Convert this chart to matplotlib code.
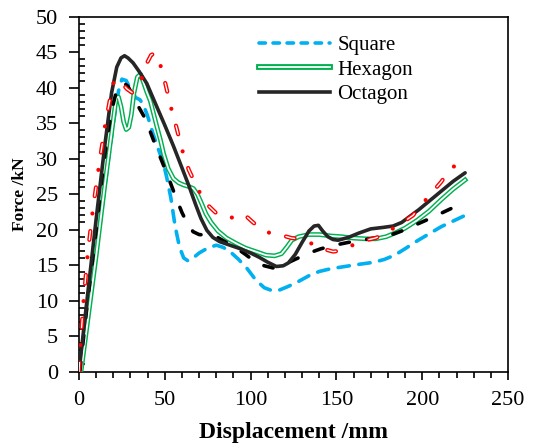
import matplotlib
matplotlib.use("Agg")
import matplotlib.pyplot as plt
import matplotlib.patheffects as pe
from matplotlib.lines import Line2D
from matplotlib.ticker import MultipleLocator

plt.rcParams['font.family'] = ['Liberation Serif', 'DejaVu Serif']
plt.rcParams['lines.scale_dashes'] = False

# -----------------------------
# DATA
# -----------------------------
sq_x = [1, 5, 10, 15, 20, 23, 25, 27.5, 30, 33, 35.5, 37.5, 40, 43, 46, 49, 51,
        53.5, 56, 58.5, 61, 63.5, 66, 70, 75, 80, 84, 88, 93, 98, 103, 108, 112.5,
        117, 122, 128, 134, 140, 147, 155, 163, 172, 178, 184, 190, 197, 204, 211,
        218, 225]
sq_y = [0, 7.5, 16.5, 26, 35, 39.5, 41.2, 41, 39.8, 38.6, 38.3, 37.6, 36, 33.6,
        31.5, 29.5, 27.5, 24.5, 20.5, 17.6, 16, 15.6, 15.9, 16.7, 17.4, 17.8, 17.5,
        16.9, 15.8, 14.5, 12.9, 11.8, 11.4, 11.5, 12, 12.7, 13.5, 14.1, 14.5, 14.8,
        15.1, 15.4, 15.8, 16.4, 17.3, 18.4, 19.4, 20.4, 21.2, 22.0]

hx_x = [1.2, 5, 10, 15, 18, 20, 21.7, 23, 24.5, 26, 27.5, 29, 30.5, 32, 34, 35.8,
        37.5, 39.5, 41.6, 43.5, 45.4, 47.5, 49.3, 52, 55, 58, 60.8, 63.5, 66.6, 69,
        71.4, 74, 77, 81, 86, 92, 97, 103, 109, 114, 118, 121, 124, 128, 134, 140,
        147, 153, 160, 167, 173, 179, 184, 190, 197, 204, 211, 218, 225]
hx_y = [0, 7, 16.3, 26.2, 31.8, 35.5, 38.6, 38.7, 37.3, 35.2, 34.1, 34.4, 36.2,
        39.2, 41.5, 41.9, 40.8, 39.4, 38.1, 36.3, 34.5, 32.6, 30.7, 28.6, 27.2,
        26.6, 26.3, 26.1, 25.8, 25, 23.7, 22.2, 21, 19.8, 18.8, 18, 17.4, 16.9,
        16.4, 16.3, 16.6, 17.5, 18.5, 19, 19.3, 19.3, 19.1, 19.0, 18.8, 18.7, 18.7,
        19, 19.5, 20.2, 21.3, 22.6, 24.2, 25.7, 27.0]

oc_x = [0, 5, 10, 15, 19, 22, 24.5, 26.5, 28.5, 31.5, 35, 39.5, 45, 50, 55, 60,
        64, 68, 71, 74.5, 78, 82, 88, 94, 100, 105, 110, 115, 119, 122, 126, 130,
        134, 137, 139.5, 142, 145, 148, 151, 157, 163, 170, 177, 183, 188, 193,
        198, 203, 208, 213, 218, 225]
oc_y = [0, 10.8, 21.5, 31.8, 39.3, 42.9, 44.2, 44.5, 44.2, 43.5, 42.3, 40.6, 37.5,
        34.7, 31.8, 28.7, 26.2, 23.5, 21.6, 19.9, 18.9, 18.3, 17.8, 17.3, 16.7,
        16.1, 15.4, 14.8, 14.9, 15.3, 16.5, 18.2, 19.8, 20.5, 20.6, 19.8, 19.0,
        18.6, 18.5, 18.9, 19.5, 20.1, 20.3, 20.5, 21, 21.9, 22.8, 23.8, 24.8, 25.8,
        26.8, 28.0]

bd_x = [0.5, 5, 10, 14, 16.5, 19, 21.5, 24, 26.5, 28.5, 30.5, 34, 38.7, 44.5,
        51.2, 57, 60, 63.5, 66.5, 70, 75, 80, 85, 90.6, 97, 103, 108, 113, 118,
        125, 134, 141, 149, 157, 164.6, 172, 180, 188, 195.5, 203, 211, 218, 225]
bd_y = [0, 10, 20, 28.6, 33.1, 36.8, 39.2, 40.4, 40.6, 40.2, 39.3, 37.6, 35.6,
        31.9, 27.9, 24.2, 22.4, 20.7, 19.7, 19.3, 19.2, 19.0, 18.3, 17.6, 16.5,
        15.4, 14.9, 14.6, 14.9, 15.7, 16.7, 17.3, 17.8, 18.2, 18.5, 18.8, 19.1,
        19.8, 20.6, 21.4, 22.3, 23.1, 24.0]

rd_x = [0, 0.8, 2.7, 5, 7.9, 11.4, 15.2, 18, 20.4, 22.5, 25, 28, 31, 33.5, 36.4,
        39, 42, 44.5, 47.3, 50.5, 53.5, 57, 60, 64, 69.5, 74, 80, 87.8, 93, 96,
        101, 105, 109, 113, 118, 124, 128, 133, 137, 141, 145, 148, 152, 157, 161,
        165, 169, 172.6, 176.5, 180.5, 184, 187.7, 191, 194.6, 200, 206, 211, 216,
        218.5]
rd_y = [0, 3.9, 10.1, 16.4, 22.5, 28.6, 34.7, 38.3, 41, 41.2, 40.6, 39.8, 39.3,
        39.9, 41.2, 43.2, 44.6, 44.9, 43.3, 40.4, 37.3, 34.2, 31.3, 28.4, 25.6,
        23.7, 22.3, 21.6, 22, 22.2, 21.1, 20.3, 19.7, 19.4, 19.2, 18.8, 18.7, 18.4,
        17.8, 17.3, 17.1, 16.9, 17.0, 17.5, 18.0, 18.3, 18.6, 18.8, 19.2, 19.8,
        20.3, 20.9, 21.4, 22.0, 23.6, 25.3, 26.7, 28.4, 28.9]

labels = ["Square", "Hexagon", "Octagon"]

BLUE = "#00B0F0"
GREEN = "#00B050"
DARK = "#262626"
RED = "#FF0000"

# -----------------------------
# PLOT
# -----------------------------
fig = plt.figure(figsize=(5.36, 4.47), dpi=100)
ax = fig.add_axes([0.1474, 0.1689, 0.8004, 0.7937])

ax.plot(sq_x, sq_y, color=BLUE, lw=2.6, ls=(0, (8.2, 6.9)),
        dash_capstyle="round", zorder=2)

green_fx = [pe.Stroke(linewidth=3.4, foreground=GREEN), pe.Normal()]
ax.plot(hx_x, hx_y, color="white", lw=1.3, path_effects=green_fx, zorder=3)

ax.plot(bd_x, bd_y, color="black", lw=2.6, ls=(0, (6.8, 12.6)),
        dash_capstyle="round", zorder=4)

ax.plot(oc_x, oc_y, color=DARK, lw=2.6, solid_capstyle="round", zorder=5)

# red dash-dot: outlined dashes + solid dots
red_fx = [pe.Stroke(linewidth=3.0, foreground=RED), pe.Normal()]
ax.plot(rd_x, rd_y, color="white", lw=1.0, ls=(0, (6.4, 25.3)),
        dash_capstyle="round", path_effects=red_fx, zorder=6)
ax.plot(rd_x, rd_y, color=RED, lw=3.0, ls=(12.6, (0.01, 31.69)),
        dash_capstyle="round", zorder=6)

# legend (only three entries in the reference)
handles = [
    Line2D([], [], color=BLUE, lw=2.6, ls=(0, (4.6, 5.5)), dash_capstyle="round"),
    Line2D([], [], color="white", lw=1.3,
           path_effects=[pe.Stroke(linewidth=4.2, foreground=GREEN), pe.Normal()]),
    Line2D([], [], color=DARK, lw=2.6),
]
ax.legend(handles, labels, loc="upper left", bbox_to_anchor=(0.42, 0.946),
          frameon=False, fontsize=15, handlelength=3.4, handletextpad=0.35,
          labelspacing=0.22, borderaxespad=0, borderpad=0)

ax.set_xlim(0, 250)
ax.set_ylim(0, 50)
ax.xaxis.set_major_locator(MultipleLocator(50))
ax.xaxis.set_minor_locator(MultipleLocator(10))
ax.yaxis.set_major_locator(MultipleLocator(5))
ax.yaxis.set_minor_locator(MultipleLocator(1))

ax.tick_params(axis="x", which="major", direction="out", length=6, width=1.2,
               labelsize=16, pad=8)
ax.tick_params(axis="x", which="minor", direction="out", length=4, width=1.2)
ax.tick_params(axis="y", which="major", direction="out", length=7, width=1.2,
               labelsize=16, pad=8)
ax.tick_params(axis="y", which="minor", direction="in", length=4, width=1.2)

for spine in ax.spines.values():
    spine.set_linewidth(1.2)

ax.set_xlabel("Displacement /mm", fontsize=17, fontweight="bold", labelpad=9)
ax.set_ylabel("Force /kN", fontsize=12.5, fontweight="bold", labelpad=6)

fig.savefig("out.png", dpi=100)
